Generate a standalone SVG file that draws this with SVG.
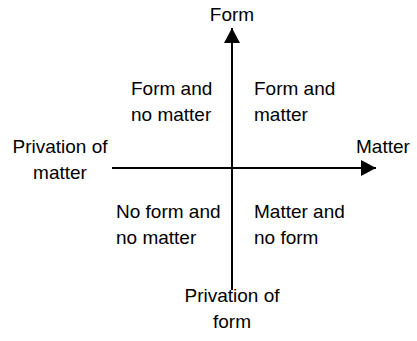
<svg xmlns="http://www.w3.org/2000/svg" width="417" height="341" viewBox="0 0 417 341">
<style>
text{font-family:"Liberation Sans",Arial,sans-serif;font-size:19px;fill:#000}
.ax{stroke:#000;stroke-width:2;fill:none}
</style>
<defs>
<marker id="ah" markerWidth="16" markerHeight="16" refX="15" refY="8" orient="auto" markerUnits="userSpaceOnUse">
<path d="M0,0 L15,8 L0,16 Z" fill="#000"/>
</marker>
</defs>
<rect width="417" height="341" fill="#fff"/>
<g id="connectors">
<line class="ax" x1="232" y1="290" x2="232" y2="28" marker-end="url(#ah)"/>
<line class="ax" x1="112" y1="168" x2="376" y2="168" marker-end="url(#ah)"/>
</g>
<g id="form"><text x="232" y="21" text-anchor="middle">Form</text></g>
<g id="matter"><text x="356" y="153">Matter</text></g>
<g id="privation-matter"><text x="60" y="153" text-anchor="middle">Privation of</text><text x="60" y="179" text-anchor="middle">matter</text></g>
<g id="privation-form"><text x="232" y="302" text-anchor="middle">Privation of</text><text x="232" y="328" text-anchor="middle">form</text></g>
<g id="q2"><text x="131" y="95">Form and</text><text x="131" y="121">no matter</text></g>
<g id="q1"><text x="254" y="95">Form and</text><text x="254" y="121">matter</text></g>
<g id="q3"><text x="116" y="218">No form and</text><text x="116" y="244">no matter</text></g>
<g id="q4"><text x="254" y="218">Matter and</text><text x="254" y="244">no form</text></g>
</svg>
